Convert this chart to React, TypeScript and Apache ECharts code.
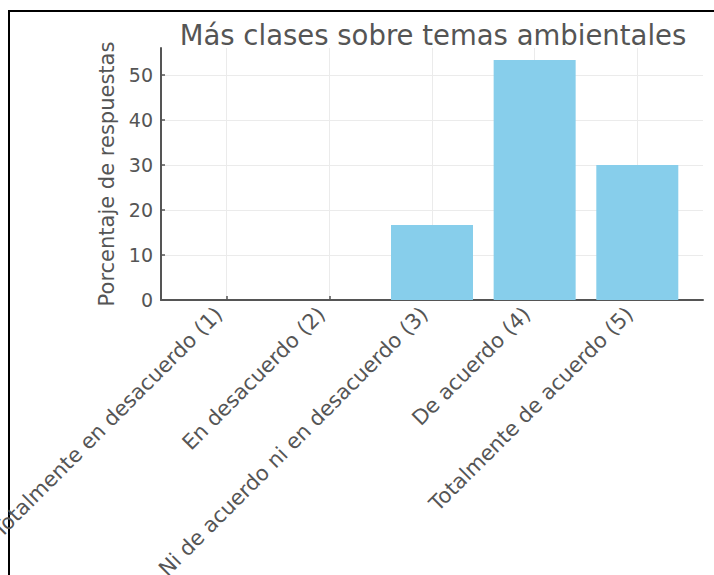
import React, { useEffect, useRef } from "react";
import * as echarts from "echarts";

const categories = [
  "Totalmente en desacuerdo (1)",
  "En desacuerdo (2)",
  "Ni de acuerdo ni en desacuerdo (3)",
  "De acuerdo (4)",
  "Totalmente de acuerdo (5)",
];
const values = [0, 0, 16.67, 53.33, 30];
const yTicks = [0, 10, 20, 30, 40, 50];
const xPositions = [0, 1, 2, 3, 4];

const titleText = "Más clases sobre temas ambientales";
const yAxisTitle = "Porcentaje de respuestas";

export default function App() {
  const ref = useRef<HTMLDivElement>(null);
  useEffect(() => {
    if (!ref.current) return;
    const chart = echarts.init(ref.current, undefined, { renderer: "svg" });
    const font = "DejaVu Sans";
    const textColor = "#555555";
    chart.setOption({
      animation: false,
      backgroundColor: "#ffffff",
      textStyle: { fontFamily: font },
      title: {
        text: titleText,
        left: 428,
        top: 16,
        textAlign: "center",
        textStyle: { fontFamily: font, fontSize: 27.5, fontWeight: "normal", color: textColor },
      },
      graphic: [
        {
          type: "rect",
          shape: { x: 9, y: 11, width: 720, height: 600 },
          style: { fill: "none", stroke: "#000000", lineWidth: 2 },
          silent: true,
        },
      ],
      grid: {
        left: 161,
        right: 11,
        top: 48,
        bottom: 275,
        containLabel: false,
        outerBoundsMode: "none",
      },
      xAxis: {
        type: "value",
        min: -0.64,
        max: 4.64,
        axisLine: { show: true, onZero: false, lineStyle: { color: "#555555", width: 2 } },
        axisTick: {
          show: true,
          inside: true,
          length: 4,
          customValues: xPositions,
          lineStyle: { color: "#555555", width: 1.5 },
        },
        splitLine: { show: true, lineStyle: { color: "#ebebeb", width: 1 } },
        axisLabel: {
          customValues: xPositions,
          rotate: 45,
          margin: 3,
          padding: [0, 11, 0, 0],
          fontSize: 21,
          color: textColor,
          fontFamily: font,
          formatter: (v: number) => categories[Math.round(v)] ?? "",
        },
      },
      yAxis: {
        type: "value",
        min: 0,
        max: 56,
        name: yAxisTitle,
        nameLocation: "middle",
        nameGap: 42,
        nameTextStyle: { fontSize: 21, color: textColor, fontFamily: font },
        axisLine: { show: true, onZero: false, lineStyle: { color: "#555555", width: 2 } },
        axisTick: {
          show: true,
          inside: true,
          length: 4,
          customValues: yTicks,
          lineStyle: { color: "#555555", width: 1.5 },
        },
        splitLine: { show: true, lineStyle: { color: "#ebebeb", width: 1 } },
        axisLabel: {
          customValues: yTicks,
          margin: 8,
          fontSize: 19,
          color: textColor,
          fontFamily: font,
        },
      },
      series: [
        {
          type: "bar",
          data: values.map((v, i) => [xPositions[i], v]),
          barWidth: 82,
          itemStyle: { color: "#87CEEB" },
        },
      ],
    });
    return () => chart.dispose();
  }, []);
  return (
    <div
      ref={ref}
      style={{ position: "absolute", left: 0, top: 0, width: 714, height: 575 }}
    />
  );
}
